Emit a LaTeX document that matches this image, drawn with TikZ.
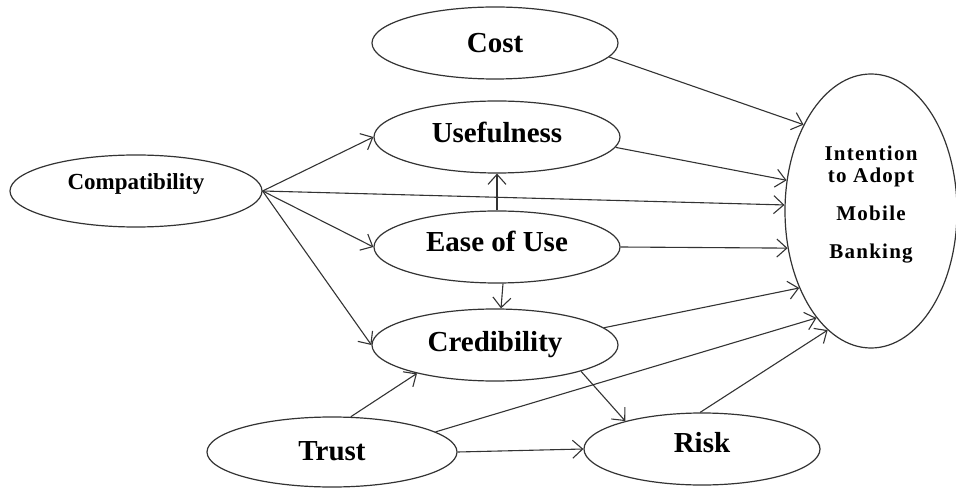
\documentclass[tikz,border=0pt]{standalone}
\usepackage{fontspec}
\setmainfont{Liberation Serif}
\usetikzlibrary{arrows.meta,shapes.geometric}
\definecolor{cL}{HTML}{333333}
\tikzset{
  oval/.style={ellipse,draw=cL,line width=0.6pt,fill=white,inner sep=0pt,
               minimum width=123pt,minimum height=36pt,
               font=\fontsize{14.5}{16}\selectfont\bfseries},
  lift/.style={text height=9.6pt,text depth=#1},
  link/.style={-{Straight Barb[length=5pt,width=9pt]},cL,line width=0.55pt},
}

\begin{document}
\begin{tikzpicture}[x=0.5pt,y=-0.5pt]
  \useasboundingbox (0,0) rectangle (956,491);
  % constructs
  \node[oval,lift=0pt] (cost) at (495,43) {Cost};
  \node[oval,lift=4pt] (use) at (497,137) {Usefulness};
  \node[oval,lift=5pt] (ease) at (497,247) {Ease of Use};
  \node[oval,lift=3pt] (cred) at (495,345) {Credibility};
  \node[oval,minimum width=126pt,font=\fontsize{11.5}{13}\selectfont\bfseries,
        text height=7.6pt,text depth=9.5pt] (comp) at (136,191) {Compatibility};
  \node[oval,minimum width=125pt,minimum height=35pt,lift=1pt] (trust) at (332,452) {Trust};
  \node[oval,minimum width=118pt,lift=6pt] (risk) at (702,449) {Risk};
  \node[oval,minimum width=86pt,minimum height=137pt,align=center,text depth=8.5pt,
        font=\fontsize{10.5}{11}\selectfont\bfseries\addfontfeature{LetterSpace=6}]
        (intent) at (871,211) {Intention\\to Adopt\\[8pt]Mobile\\[8pt]Banking};
  % paths into intention
  \draw[link] (cost.-7) -- (intent.128);
  \draw[link] (use.-5) -- (intent.160);
  \draw[link] (comp.east) -- (intent.176);
  \draw[link] (ease.east) -- (intent.204);
  \draw[link] (cred.9) -- (intent.227);
  \draw[link] (trust.11) -- (intent.243);
  \draw[link] (risk.93) -- (intent.250);
  % compatibility to the beliefs
  \draw[link] (comp.east) -- (use.west);
  \draw[link] (comp.east) -- (ease.west);
  \draw[link] (comp.east) -- (cred.west);
  % among the beliefs
  \draw[link] (ease.north) -- (use.south);
  \draw[link] ([xshift=3pt]ease.south) -- ([xshift=3pt]cred.north);
  \draw[link] (trust.62) -- (cred.200);
  \draw[link] (trust.east) -- (risk.west);
  \draw[link] (cred.-17) -- (risk.160);
\end{tikzpicture}
\end{document}
